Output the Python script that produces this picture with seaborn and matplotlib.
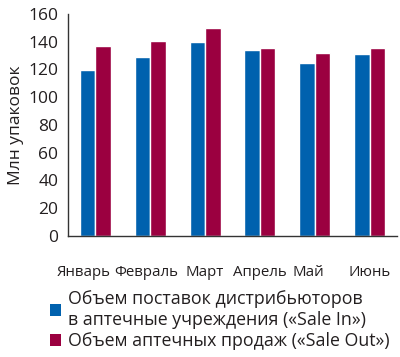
import matplotlib
matplotlib.use('Agg')
import matplotlib.pyplot as plt
import matplotlib.transforms as mtransforms
from matplotlib.patches import Patch
import pandas as pd
import seaborn as sns

# Данные
months = ['Январь', 'Февраль', 'Март', 'Апрель', 'Май', 'Июнь']
sale_in = [119.5, 129.2, 139.8, 133.8, 124.4, 130.9]
sale_out = [136.9, 140.3, 150.1, 135.2, 131.9, 135.4]
series = ['Объем поставок дистрибьюторов\nв аптечные учреждения («Sale In»)',
          'Объем аптечных продаж («Sale Out»)']
colors = ['#0061ae', '#9b0040']
y_ticks = [0, 20, 40, 60, 80, 100, 120, 140, 160]

df = pd.DataFrame({
    'month': months * 2,
    'value': sale_in + sale_out,
    'series': [series[0]] * len(months) + [series[1]] * len(months),
})

sns.set_style('white')
plt.rcParams['font.family'] = ['Open Sans', 'DejaVu Sans']

fig = plt.figure(figsize=(4.0, 3.57), dpi=100)
ax = fig.add_axes([0.17, 0.339, 0.8225, 0.622])

sns.barplot(data=df, x='month', y='value', hue='series', palette=colors,
            width=0.565, saturation=1, ax=ax, legend=False)

ax.set_xlim(-0.5, len(months) - 0.5)
ax.set_ylim(0, 160)
ax.set_yticks(y_ticks)
ax.set_xlabel('')
ax.set_ylabel('Млн упаковок', fontsize=12.5, color='#231f20', labelpad=3)

# деления оси X на границах категорий
ax.set_xticks([i - 0.5 for i in range(len(months) + 1)], minor=True)
ax.tick_params(axis='x', which='minor', length=7, width=1, color='#333333', direction='out')
ax.tick_params(axis='x', which='major', length=0, pad=21, labelsize=10.8, labelcolor='#231f20')
ax.tick_params(axis='y', length=5, width=1, color='#333333', direction='out',
               labelsize=12.5, labelcolor='#231f20', pad=2)

# подписи месяцев в оригинале немного сдвинуты, чтобы не налезать друг на друга
shifts = {'Январь': -12, 'Февраль': -4, 'Май': -6}
for lbl in ax.get_xticklabels():
    dx = shifts.get(lbl.get_text(), 0)
    if dx:
        lbl.set_transform(lbl.get_transform() +
                          mtransforms.ScaledTranslation(dx / 100, 0, fig.dpi_scale_trans))

for side in ['top', 'right']:
    ax.spines[side].set_visible(False)
for side in ['left', 'bottom']:
    ax.spines[side].set_color('#333333')
    ax.spines[side].set_linewidth(1)

handles = [Patch(facecolor=c, edgecolor='none') for c in colors]
leg = fig.legend(handles, series, loc='upper left', bbox_to_anchor=(0.125, 0.188),
                 frameon=False, fontsize=12.8, handlelength=0.6, handleheight=0.6,
                 handletextpad=0.4, labelspacing=0.2, borderpad=0, borderaxespad=0,
                 labelcolor='#231f20')
for t in leg.get_texts():
    t.set_linespacing(1.2)

fig.savefig('out.png', dpi=100)
plt.close(fig)
